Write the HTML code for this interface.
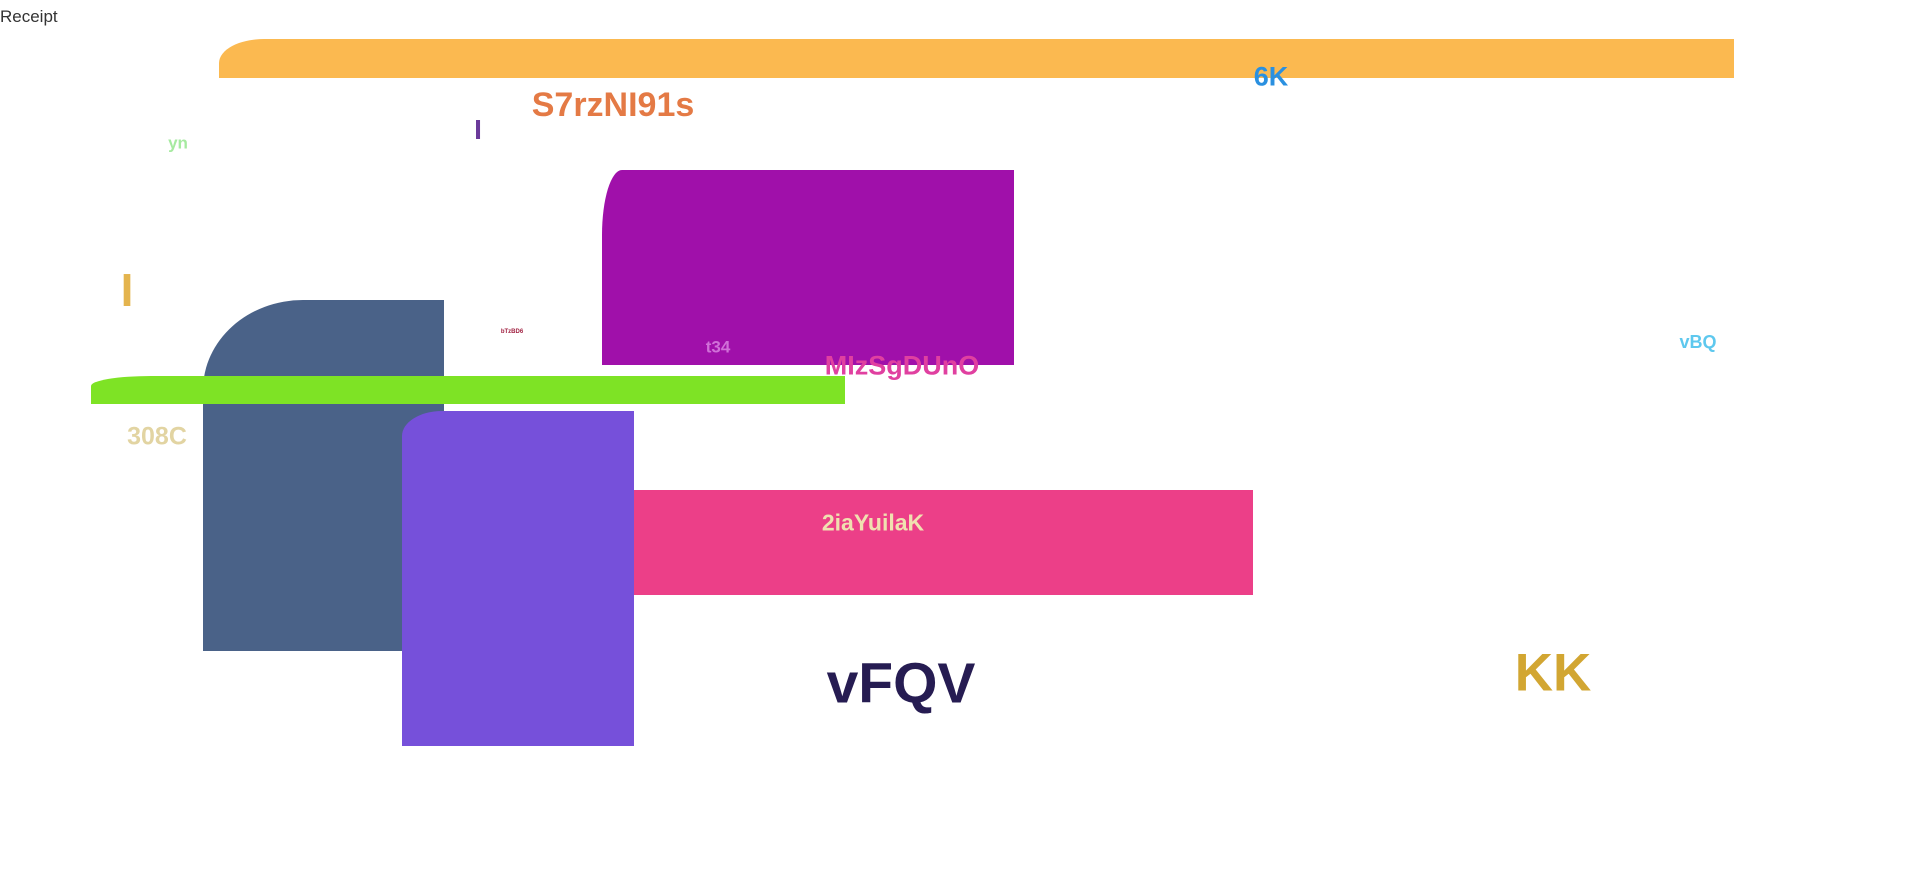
<!DOCTYPE html>
<html><head><meta charset="utf-8"><style>
html,body{margin:0;padding:0;width:1920px;height:870px;background:#fff;overflow:hidden;position:relative;font-family:"Liberation Sans",sans-serif;}
div{position:absolute;}
.t{font-weight:bold;white-space:nowrap;transform:translate(-50%,-50%);line-height:1;}
</style></head><body>
<div style="left:0;top:7px;font-size:17px;color:#333;">Receipt</div>
<div style="left:219px;top:39px;width:1515px;height:39px;background:#fbb950;border-top-left-radius:45px 24px;"></div>
<div class="t" style="left:1271px;top:77px;font-size:27px;color:#2a90e0;">6K</div>
<div class="t" style="left:613px;top:105px;font-size:34px;color:#e47a45;">S7rzNI91s</div>
<div class="t" style="left:478px;top:130px;font-size:28px;color:#6b3a9a;">I</div>
<div class="t" style="left:178px;top:143px;font-size:17px;color:#a6eaa0;">yn</div>
<div style="left:602px;top:170px;width:412px;height:195px;background:#a010aa;border-top-left-radius:20px 65px;"></div>
<div class="t" style="left:127px;top:290px;font-size:46px;color:#e4b44e;">I</div>
<div style="left:203px;top:300px;width:241px;height:351px;background:#4a6288;border-top-left-radius:100px 90px;"></div>
<div class="t" style="left:512px;top:332px;font-size:6px;color:#a02040;">bTzBD6</div>
<div class="t" style="left:718px;top:347px;font-size:17px;color:#d070d8;">t34</div>
<div class="t" style="left:902px;top:366px;font-size:27px;color:#e040a0;">MIzSgDUnO</div>
<div class="t" style="left:1698px;top:342px;font-size:18px;color:#5ec8ee;">vBQ</div>
<div style="left:91px;top:376px;width:754px;height:28px;background:#7ee325;border-top-left-radius:60px 10px;"></div>
<div class="t" style="left:157px;top:437px;font-size:25px;color:#e2d4a2;">308C</div>
<div style="left:402px;top:411px;width:232px;height:335px;background:#7650da;border-top-left-radius:40px 25px;"></div>
<div style="left:634px;top:490px;width:619px;height:105px;background:#ec3f88;"></div>
<div class="t" style="left:873px;top:523px;font-size:23px;color:#f0e0b0;">2iaYuilaK</div>
<div class="t" style="left:901px;top:684px;font-size:57px;color:#261c52;">vFQV</div>
<div class="t" style="left:1553px;top:673px;font-size:53px;color:#d2a632;">KK</div>
</body></html>
